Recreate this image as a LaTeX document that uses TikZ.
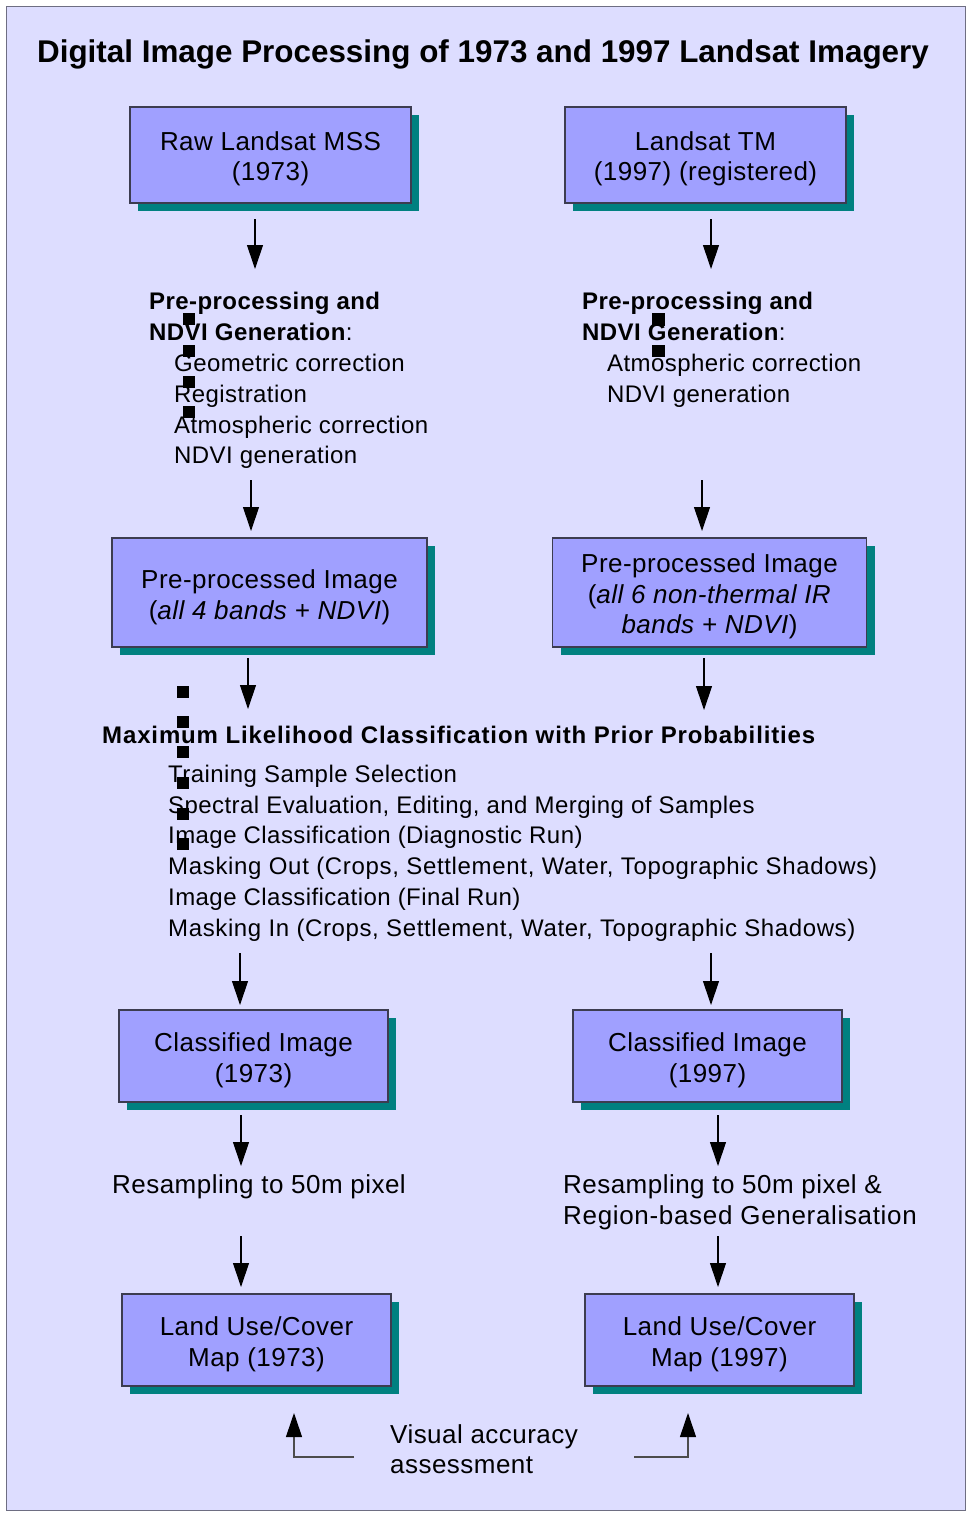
\documentclass[tikz,border=0pt]{standalone}
\usepackage{fontspec}
\setmainfont{Liberation Sans}[LetterSpace=1.8]
\newfontfamily\titlefont{Liberation Sans}
\usetikzlibrary{arrows.meta,shadows}
\definecolor{bgc}{RGB}{221,221,255}
\definecolor{boxc}{RGB}{160,160,255}
\definecolor{shc}{RGB}{0,128,128}
\definecolor{framec}{RGB}{110,110,130}
\definecolor{edgec}{RGB}{60,60,80}
\begin{document}
\begin{tikzpicture}[x=1pt,y=-1pt,
  box/.style={draw=edgec, line width=1.2pt, fill=boxc, inner sep=0pt,
    drop shadow={shadow xshift=8pt, shadow yshift=-8pt, fill=shc, opacity=1, draw=none}},
  boxt/.style={anchor=north, align=center, inner sep=0pt, font=\fontsize{26}{30.8}\selectfont},
  txt/.style={anchor=base west, inner sep=0pt, font=\fontsize{24}{31}\selectfont},
  bigtxt/.style={anchor=base west, inner sep=0pt, font=\fontsize{26}{31}\selectfont},
  hd/.style={anchor=base west, inner sep=0pt, font=\fontsize{24}{31}\selectfont\bfseries},
  arr/.style={-{Triangle[length=24pt,width=16pt]}, line width=1.1pt, black},
  conn/.style={-{Triangle[length=24pt,width=16pt,color=black]}, line width=1.1pt, draw=black!70}]
\fill[white] (0,0) rectangle (970,1513);
\useasboundingbox (0,0) rectangle (970,1513);
\draw[framec, line width=1.2pt, fill=bgc] (6.5,6.5) rectangle (965.5,1510.5);

% title
\node[anchor=base, inner sep=0pt, font=\titlefont\fontsize{31.4}{36}\selectfont\bfseries] (title) at (483,62)
  {Digital Image Processing of 1973 and 1997 Landsat Imagery};

% boxes (shape) and their texts
\node[box, minimum width=281pt, minimum height=96pt] (raw) at (270.5,155) {};
\node[boxt] (rawt) at (270.5,128.4) {\strut Raw Landsat MSS\\(1973)};
\node[box, minimum width=281pt, minimum height=96pt] (tm) at (705.5,155) {};
\node[boxt] (tmt) at (705.5,128.4) {\strut Landsat TM\\(1997) (registered)};
\node[box, minimum width=315pt, minimum height=109pt] (pre1) at (269.5,592.5) {};
\node[boxt] (pre1t) at (269.5,566.9) {\strut Pre-processed Image\\(\textit{all 4 bands + NDVI})};
\node[box, minimum width=314pt, minimum height=109pt] (pre2) at (709.5,592.5) {};
\node[boxt] (pre2t) at (709.5,550.6) {\strut Pre-processed Image\\(\textit{all 6 non-thermal IR}\\\textit{bands + NDVI})};
\node[box, minimum width=269pt, minimum height=92pt] (cl1) at (253.5,1056) {};
\node[boxt] (cl1t) at (253.5,1029.9) {\strut Classified Image\\(1973)};
\node[box, minimum width=269pt, minimum height=92pt] (cl2) at (707.5,1056) {};
\node[boxt] (cl2t) at (707.5,1029.9) {\strut Classified Image\\(1997)};
\node[box, minimum width=269pt, minimum height=92pt] (lu1) at (256.5,1340) {};
\node[boxt] (lu1t) at (256.5,1313.9) {\strut Land Use/Cover\\Map (1973)};
\node[box, minimum width=269pt, minimum height=92pt] (lu2) at (719.5,1340) {};
\node[boxt] (lu2t) at (719.5,1313.9) {\strut Land Use/Cover\\Map (1997)};

% left preprocessing block
\node[hd] (lh1) at (149,309) {Pre-processing and};
\node[txt] (lh2) at (149,340) {\textbf{NDVI Generation}:};
\node[txt] (li1) at (174,371) {Geometric correction};
\node[txt] (li2) at (174,402) {Registration};
\node[txt] (li3) at (174,433) {Atmospheric correction};
\node[txt] (li4) at (174,463) {NDVI generation};
\fill (183,313) rectangle ++(12,12);
\fill (183,345) rectangle ++(12,12);
\fill (183,376) rectangle ++(12,12);
\fill (183,406) rectangle ++(12,12);

% right preprocessing block
\node[hd] (rh1) at (582,309) {Pre-processing and};
\node[txt] (rh2) at (582,340) {\textbf{NDVI Generation}:};
\node[txt] (ri1) at (607,371) {Atmospheric correction};
\node[txt] (ri2) at (607,402) {NDVI generation};
\fill (652,313) rectangle ++(13,13);
\fill (652,345) rectangle ++(13,12);

% middle classification block
\node[hd] (mh) at (102,743) {\addfontfeatures{LetterSpace=3.6}Maximum Likelihood Classification with Prior Probabilities};
\node[txt] (m1) at (168,782) {Training Sample Selection};
\node[txt] (m2) at (168,813) {Spectral Evaluation, Editing, and Merging of Samples};
\node[txt] (m3) at (168,843) {Image Classification (Diagnostic Run)};
\node[txt] (m4) at (168,874) {\addfontfeatures{LetterSpace=2.8}Masking Out (Crops, Settlement, Water, Topographic Shadows)};
\node[txt] (m5) at (168,905) {Image Classification (Final Run)};
\node[txt] (m6) at (168,936) {\addfontfeatures{LetterSpace=2.6}Masking In (Crops, Settlement, Water, Topographic Shadows)};
\foreach \yy in {686,716,746,777,808,838} \fill (177,\yy) rectangle ++(12,12);

% resampling
\node[bigtxt] (rs1) at (112,1193) {Resampling to 50m pixel};
\node[bigtxt] (rs2a) at (563,1193) {Resampling to 50m pixel \&};
\node[bigtxt] (rs2b) at (563,1224) {\addfontfeatures{LetterSpace=2.6}Region-based Generalisation};

% visual accuracy
\node[bigtxt] (va1) at (390,1443) {Visual accuracy};
\node[bigtxt] (va2) at (390,1473) {assessment};

% arrow coordinates
\coordinate (a1s) at (255,219); \coordinate (a1e) at (255,269);
\coordinate (b1s) at (711,219); \coordinate (b1e) at (711,269);
\coordinate (a2s) at (251,480); \coordinate (a2e) at (251,531);
\coordinate (b2s) at (702,480); \coordinate (b2e) at (702,531);
\coordinate (a3s) at (248,658); \coordinate (a3e) at (248,709);
\coordinate (b3s) at (704,658); \coordinate (b3e) at (704,710);
\coordinate (a4s) at (240,953); \coordinate (a4e) at (240,1005);
\coordinate (b4s) at (711,953); \coordinate (b4e) at (711,1005);
\coordinate (a5s) at (241,1115); \coordinate (a5e) at (241,1166);
\coordinate (b5s) at (718,1115); \coordinate (b5e) at (718,1166);
\coordinate (a6s) at (241,1236); \coordinate (a6e) at (241,1287);
\coordinate (b6s) at (718,1236); \coordinate (b6e) at (718,1287);
\coordinate (vls) at (354,1457); \coordinate (vle) at (294,1413);
\coordinate (vrs) at (634,1457); \coordinate (vre) at (688,1413);

\foreach \p in {a,b} \foreach \i in {1,...,6} \draw[arr] (\p\i s) -- (\p\i e);
\draw[conn] (vls) -| (vle);
\draw[conn] (vrs) -| (vre);
\end{tikzpicture}
\end{document}
